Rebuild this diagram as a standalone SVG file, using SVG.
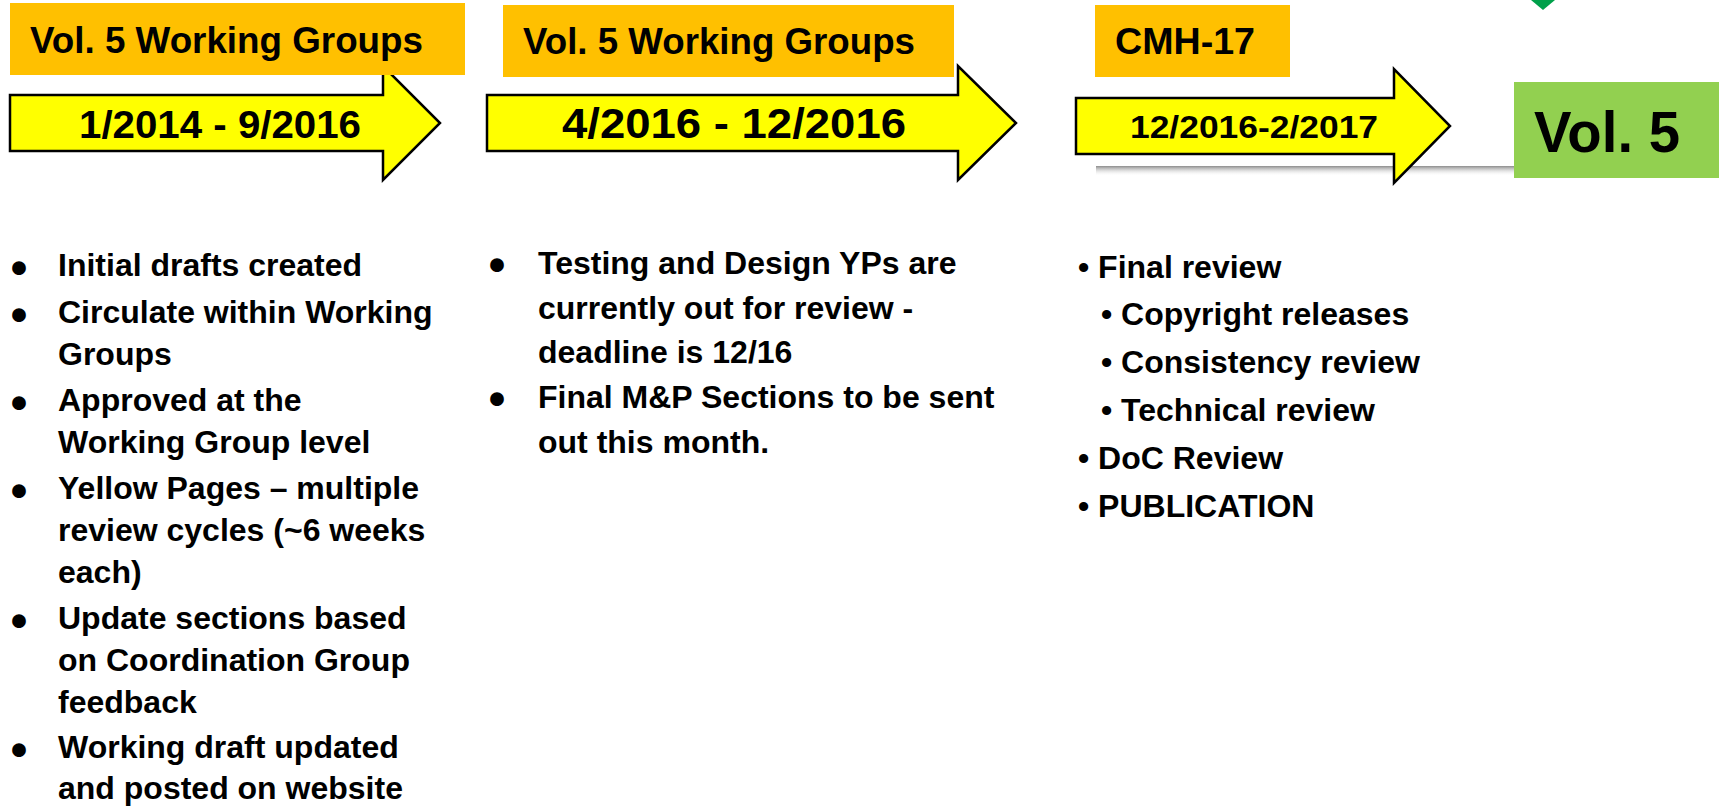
<svg xmlns="http://www.w3.org/2000/svg" width="1719" height="807" viewBox="0 0 1719 807">
<style>
.hdr{fill:#FFC000}
.arr{fill:#FFFF00;stroke:#000;stroke-width:2.5;stroke-linejoin:miter}
text{font-family:"Liberation Sans",Arial,sans-serif;font-weight:bold;fill:#000}
.h{font-size:36.5px}
.b{font-size:32px}
.bul{font-size:40px;stroke:#000;stroke-width:2.2}
</style>
<defs>
<linearGradient id="shd" x1="0" y1="0" x2="0" y2="1">
<stop offset="0" stop-color="#8c8c8c"/>
<stop offset="1" stop-color="#ffffff" stop-opacity="0"/>
</linearGradient>
</defs>
<rect width="1719" height="807" fill="#fff"/>

<g id="connectors">
<rect x="1096" y="166" width="420" height="10" fill="url(#shd)"/>
</g>

<g id="stage1">
<path class="arr" d="M10 95 H383 V66 L440 123 L383 180 V151 H10 Z"/>
<rect class="hdr" x="10" y="3" width="455" height="72"/>
<text class="h" x="30" y="53" textLength="393" lengthAdjust="spacingAndGlyphs">Vol. 5 Working Groups</text>
<text x="79" y="138" font-size="38" textLength="282" lengthAdjust="spacingAndGlyphs">1/2014 - 9/2016</text>
</g>

<g id="stage2">
<path class="arr" d="M487 95 H958 V66 L1016 123 L958 180 V151 H487 Z"/>
<rect class="hdr" x="503" y="5" width="451" height="72"/>
<text class="h" x="523" y="54" textLength="392" lengthAdjust="spacingAndGlyphs">Vol. 5 Working Groups</text>
<text x="562" y="138" font-size="42" textLength="344" lengthAdjust="spacingAndGlyphs">4/2016 - 12/2016</text>
</g>

<g id="stage3">
<path class="arr" d="M1076 98 H1394 V69 L1450 126 L1394 183 V154 H1076 Z"/>
<rect class="hdr" x="1095" y="5" width="195" height="72"/>
<text class="h" x="1115" y="54" textLength="140" lengthAdjust="spacingAndGlyphs">CMH-17</text>
<text x="1130" y="138" font-size="32" textLength="248" lengthAdjust="spacingAndGlyphs">12/2016-2/2017</text>
</g>

<g id="vol5">
<rect x="1514" y="82" width="205" height="96" fill="#92D050"/>
<text x="1534" y="152" font-size="57" textLength="146" lengthAdjust="spacingAndGlyphs">Vol. 5</text>
</g>

<g id="marker">
<polygon points="1531,0 1555,0 1543,10" fill="#00A04A"/>
</g>

<g id="list1">
<text class="bul" x="19" y="282" text-anchor="middle">•</text>
<text class="b" x="58" y="276">Initial drafts created</text>
<text class="bul" x="19" y="329" text-anchor="middle">•</text>
<text class="b" x="58" y="323">Circulate within Working</text>
<text class="b" x="58" y="365">Groups</text>
<text class="bul" x="19" y="417" text-anchor="middle">•</text>
<text class="b" x="58" y="411">Approved at the</text>
<text class="b" x="58" y="453">Working Group level</text>
<text class="bul" x="19" y="505" text-anchor="middle">•</text>
<text class="b" x="58" y="499">Yellow Pages – multiple</text>
<text class="b" x="58" y="541">review cycles (~6 weeks</text>
<text class="b" x="58" y="583">each)</text>
<text class="bul" x="19" y="635" text-anchor="middle">•</text>
<text class="b" x="58" y="629">Update sections based</text>
<text class="b" x="58" y="671">on Coordination Group</text>
<text class="b" x="58" y="713">feedback</text>
<text class="bul" x="19" y="764" text-anchor="middle">•</text>
<text class="b" x="58" y="758">Working draft updated</text>
<text class="b" x="58" y="799">and posted on website</text>
</g>

<g id="list2">
<text class="bul" x="497" y="279" text-anchor="middle">•</text>
<text class="b" x="538" y="274">Testing and Design YPs are</text>
<text class="b" x="538" y="319">currently out for review -</text>
<text class="b" x="538" y="363">deadline is 12/16</text>
<text class="bul" x="497" y="413" text-anchor="middle">•</text>
<text class="b" x="538" y="408">Final M&amp;P Sections to be sent</text>
<text class="b" x="538" y="453">out this month.</text>
</g>

<g id="list3">
<text class="b" x="1078" y="278">• Final review</text>
<text class="b" x="1101" y="325">• Copyright releases</text>
<text class="b" x="1101" y="373">• Consistency review</text>
<text class="b" x="1101" y="421">• Technical review</text>
<text class="b" x="1078" y="469">• DoC Review</text>
<text class="b" x="1078" y="517">• PUBLICATION</text>
</g>
</svg>
